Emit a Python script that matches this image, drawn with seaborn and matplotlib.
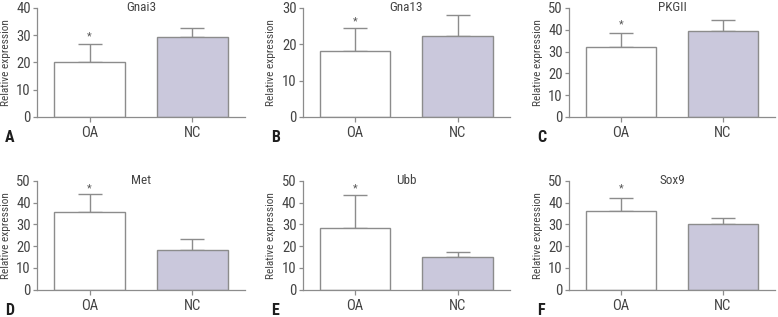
import matplotlib
matplotlib.use("Agg")
import matplotlib.pyplot as plt
import seaborn as sns
import pandas as pd

# ---- data ----
genes = ["Gnai3", "Gna13", "PKGII", "Met", "Ubb", "Sox9"]
panel_letters = ["A", "B", "C", "D", "E", "F"]
groups = ["OA", "NC"]
oa_mean = [20.1, 18.2, 32.2, 35.5, 28.2, 36.0]
oa_err = [6.6, 6.3, 6.2, 8.4, 15.1, 6.2]
nc_mean = [29.4, 22.2, 39.6, 18.1, 15.0, 30.0]
nc_err = [3.2, 5.8, 5.1, 5.0, 2.2, 3.0]
y_max = [40, 30, 50, 50, 50, 50]
star_y = [29.7, 26.3, 42.5, 46.3, 46.4, 46.3]
ylabel = "Relative expression"

# ---- style ----
sns.set_style("ticks")
FONT = ["Roboto Condensed", "DejaVu Sans"]
plt.rcParams["font.family"] = FONT
GRID = "#8c8c8c"
TXT = "#444444"
colors = {"OA": "#ffffff", "NC": "#c7c5df"}

fig = plt.figure(figsize=(7.78, 3.17), dpi=100)
W, H = 778.0, 317.0
lefts = [37.0, 302.7, 569.0]
widths = [208.0, 207.3, 206.0]
bottoms = [117.0, 289.7]
ax_h = 109.0

for i, gene in enumerate(genes):
    r, c = divmod(i, 3)
    ax = fig.add_axes([lefts[c] / W, 1 - bottoms[r] / H, widths[c] / W, ax_h / H])
    df = pd.DataFrame({"group": groups, "value": [oa_mean[i], nc_mean[i]]})
    sns.barplot(data=df, x="group", y="value", hue="group", palette=colors,
                order=groups, hue_order=groups, width=0.69, edgecolor=GRID,
                linewidth=1.0, errorbar=None, legend=False, ax=ax)
    ax.errorbar([0, 1], [oa_mean[i], nc_mean[i]],
                yerr=[[0, 0], [oa_err[i], nc_err[i]]], fmt="none",
                ecolor=GRID, elinewidth=1.0, capsize=8.5, capthick=1.0,
                clip_on=False, zorder=1)
    for p in ax.patches:
        p.set_zorder(2)
    ax.text(0, star_y[i], "*", ha="center", va="center", fontsize=8, color="#555555")
    ax.set_xlim(-0.51, 1.51)
    ax.set_ylim(0, y_max[i])
    ax.set_yticks(range(0, y_max[i] + 1, 10))
    ax.set_xlabel("")
    ax.set_ylabel(ylabel, fontsize=8.2, color=TXT, labelpad=4)
    for s in ["top", "right"]:
        ax.spines[s].set_visible(False)
    for s in ["left", "bottom"]:
        ax.spines[s].set_color(GRID)
        ax.spines[s].set_linewidth(0.9)
    ax.tick_params(axis="y", length=3.2, width=0.9, color=GRID, labelsize=10.5,
                   labelcolor=TXT, pad=1.2)
    ax.tick_params(axis="x", length=3.8, width=0.9, color=GRID, labelsize=10.5,
                   labelcolor=TXT, pad=3)
    ax.text(0.5, 1.0, gene, transform=ax.transAxes, ha="center", va="center",
            fontsize=9.5, color=TXT)
    fig.text((lefts[c] - 32) / W, 1 - (bottoms[r] + 25) / H, panel_letters[i],
             fontsize=11.5, fontweight="bold", color="#1e1e1e", ha="left",
             va="baseline")

fig.savefig("out.png", dpi=100)
